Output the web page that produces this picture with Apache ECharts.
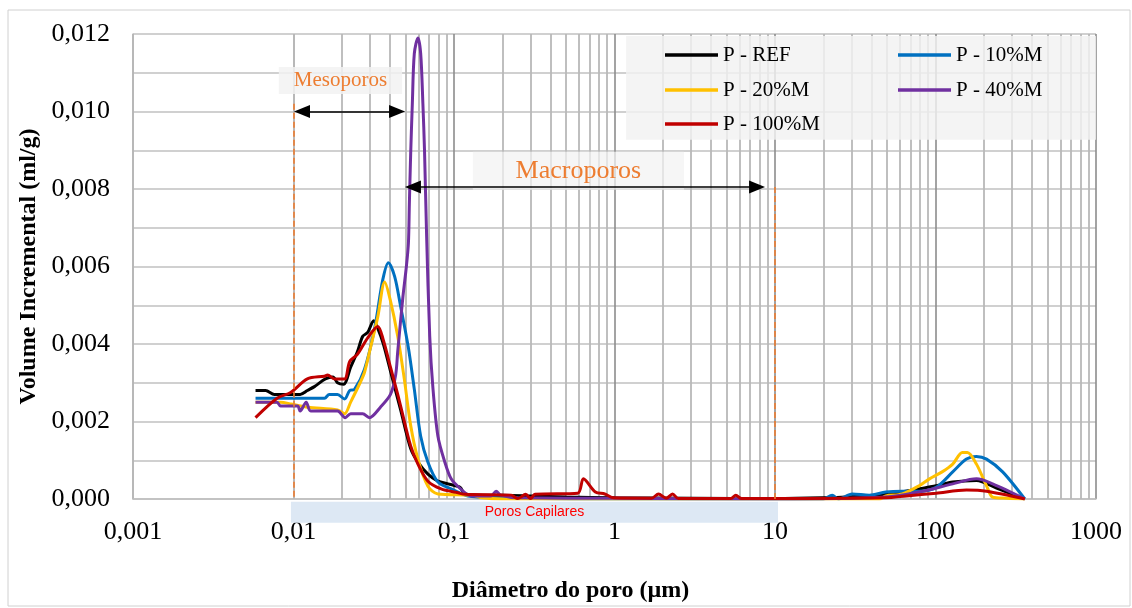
<!DOCTYPE html>
<html><head><meta charset="utf-8">
<script src="https://cdn.jsdelivr.net/npm/echarts@6/dist/echarts.min.js"></script>
<style>html,body{margin:0;padding:0;background:#fff}#c{width:1132px;height:608px}</style>
</head><body><div id="c"></div>
<script>
// ---------- DATA ----------
const seriesNames = ['P - REF', 'P - 10%M', 'P - 20%M', 'P - 40%M', 'P - 100%M'];

const refD = [0.0058, 0.0067, 0.0076, 0.0092, 0.011, 0.0122, 0.0135, 0.0158, 0.0176, 0.0188, 0.0205, 0.0227, 0.025, 0.027, 0.029, 0.0316, 0.0335, 0.0363, 0.0402, 0.0465, 0.0537, 0.0596, 0.0688, 0.0794, 0.0918, 0.109, 0.117, 0.15, 0.2, 0.3, 0.5, 1, 3, 10, 20, 30, 50, 79, 101, 128, 180, 240, 360];
const refV = [0.0028, 0.0028, 0.0027, 0.0027, 0.0027, 0.0028, 0.0029, 0.0031, 0.00315, 0.0030, 0.00296, 0.0034, 0.0038, 0.0042, 0.0043, 0.0046, 0.0044, 0.0040, 0.0033, 0.0023, 0.0013, 0.00095, 0.00064, 0.00046, 0.00039, 0.0003, 0.00013, 0.0001, 0.0001, 0.00008, 0.00005, 0.00003, 0.00002, 0.00001, 0.00003, 0.00006, 0.00012, 0.00026, 0.00034, 0.00044, 0.00048, 0.00028, 0];

const m10D = [0.0058, 0.0156, 0.0167, 0.0188, 0.0208, 0.0224, 0.024, 0.0277, 0.032, 0.036, 0.039, 0.0427, 0.0465, 0.0518, 0.0566, 0.062, 0.0688, 0.0794, 0.096, 0.122, 0.2, 0.3, 1, 10, 20, 22.7, 24.9, 30.3, 38.7, 49, 62, 79, 101, 128, 156, 180, 208, 262, 360];
const m10V = [0.0026, 0.0026, 0.0027, 0.0027, 0.00258, 0.0028, 0.00283, 0.00335, 0.0044, 0.00566, 0.0061, 0.00574, 0.00497, 0.00394, 0.00283, 0.00162, 0.00095, 0.00044, 0.00026, 0.00008, 0.00003, 0.00001, 0, 0, 0, 0.0001, 0, 0.00013, 0.0001, 0.00018, 0.0002, 0.0002, 0.0003, 0.0007, 0.00103, 0.0011, 0.00103, 0.0007, 0];

const m20D = [0.0058, 0.0083, 0.0097, 0.0123, 0.0188, 0.0208, 0.0227, 0.026, 0.0277, 0.030, 0.0335, 0.037, 0.040, 0.0446, 0.049, 0.0537, 0.0596, 0.0688, 0.0794, 0.13, 0.15, 0.2, 1, 10, 44.7, 49, 62, 79, 91.7, 110, 128, 147, 158, 180, 208, 227, 278, 360];
const m20V = [0.0025, 0.0025, 0.00245, 0.00237, 0.0023, 0.0022, 0.0025, 0.0030, 0.00327, 0.00386, 0.0047, 0.0056, 0.00515, 0.0042, 0.0031, 0.0019, 0.00103, 0.00033, 0.00013, 0.0001, 0.00003, 0, 0, 0, 0, 0.00008, 0.00013, 0.00034, 0.00052, 0.0007, 0.0009, 0.0012, 0.0012, 0.0009, 0.00034, 0.00005, 0.00002, 0];

const m40D = [0.0058, 0.0079, 0.0083, 0.0106, 0.011, 0.012, 0.0128, 0.0188, 0.021, 0.0227, 0.027, 0.0297, 0.0348, 0.0402, 0.0433, 0.0446, 0.048, 0.0505, 0.052, 0.0527, 0.0537, 0.055, 0.0566, 0.0596, 0.062, 0.064, 0.0655, 0.0675, 0.0706, 0.0738, 0.0794, 0.0877, 0.096, 0.11, 0.128, 0.17, 0.183, 0.195, 0.25, 1, 10, 49, 79, 128, 180, 227, 360];
const m40V = [0.0025, 0.0025, 0.0024, 0.0024, 0.00227, 0.0025, 0.00227, 0.00227, 0.0021, 0.0022, 0.0022, 0.0021, 0.00237, 0.0027, 0.0032, 0.0038, 0.0052, 0.0060, 0.0066, 0.0076, 0.0089, 0.0102, 0.0115, 0.0119, 0.0115, 0.0102, 0.0090, 0.0068, 0.0042, 0.0029, 0.00162, 0.00095, 0.00052, 0.00026, 0.00008, 0.00008, 0.0002, 0.0001, 0.00003, 0.00002, 0, 0.00005, 0.00018, 0.00039, 0.00052, 0.00039, 0];

const m100D = [0.0058, 0.0079, 0.0096, 0.0122, 0.0156, 0.0163, 0.018, 0.0208, 0.0224, 0.025, 0.029, 0.0335, 0.0363, 0.0402, 0.0446, 0.0465, 0.0537, 0.0596, 0.0688, 0.0831, 0.106, 0.117, 0.227, 0.25, 0.28, 0.3, 0.32, 0.59, 0.64, 0.76, 0.87, 0.99, 1.7, 1.88, 2.1, 2.3, 2.5, 5.3, 5.7, 6.2, 49, 65.9, 101, 156, 208, 360];
const m100V = [0.0021, 0.0026, 0.00275, 0.0031, 0.00317, 0.0032, 0.0031, 0.0031, 0.00355, 0.00373, 0.00416, 0.00445, 0.0041, 0.0034, 0.0027, 0.0024, 0.00137, 0.0009, 0.00046, 0.00026, 0.00016, 0.00012, 0.0001, 0.00001, 0.00012, 0.00001, 0.00012, 0.00015, 0.00052, 0.00018, 0.00013, 0.00003, 0.00002, 0.00013, 0.00002, 0.00013, 0.00001, 0.00001, 0.0001, 0.00001, 0.00003, 0.00008, 0.00015, 0.00023, 0.0002, 0];

const xTickLabels = ['0,001', '0,01', '0,1', '1', '10', '100', '1000'];
const yTickStep = 0.001;

// ---------- STYLE / LAYOUT ----------
const colors = ['#000000', '#0070c0', '#ffc000', '#7030a0', '#c00000'];
const serif = '"Liberation Serif", "Times New Roman", serif';
const orange = '#ed7d31';

const minorX = [];
for (let e = -3; e <= 2; e++) for (let m = 2; m <= 9; m++) minorX.push(+(m * Math.pow(10, e)).toPrecision(3));

function mk(i, d, v) {
  return {
    name: seriesNames[i], type: 'line', symbol: 'none', smooth: 0.3,
    data: d.map((x, k) => [x, v[k]]),
    lineStyle: { color: colors[i], width: 3 }, itemStyle: { color: colors[i] },
    z: 2, animation: false
  };
}

const legendCommon = {
  orient: 'horizontal', icon: 'rect', itemWidth: 53, itemHeight: 3.5, itemGap: 25, padding: 0,
  selectedMode: false,
  textStyle: { fontFamily: serif, fontSize: 21, color: '#000', width: 150, lineHeight: 24 }
};

const blackArrow = { color: '#000', width: 1.5, type: 'solid' };
const orangeDash = { color: orange, width: 1.6, type: [6, 3] };

const option = {
  animation: false,
  backgroundColor: '#ffffff',
  grid: { left: 133, top: 34, width: 963, height: 465, containLabel: false },
  legend: [
    Object.assign({ data: [seriesNames[0], seriesNames[1]], left: 665, top: 43 }, legendCommon),
    Object.assign({ data: [seriesNames[2], seriesNames[3]], left: 665, top: 78 }, legendCommon),
    Object.assign({ data: [seriesNames[4]], left: 665, top: 112 }, legendCommon)
  ],
  xAxis: {
    type: 'log', logBase: 10, min: 0.001, max: 1000,
    name: 'Diâmetro do poro (µm)', nameLocation: 'middle', nameGap: 80,
    nameTextStyle: { fontFamily: serif, fontSize: 24, fontWeight: 'bold', color: '#000', padding: [0, 88, 0, 0] },
    axisLine: { show: true, lineStyle: { color: '#bfbfbf', width: 1.5 } },
    axisTick: { show: false },
    axisLabel: {
      fontFamily: serif, fontSize: 26, color: '#000', margin: 20,
      formatter: v => xTickLabels[Math.round(Math.log10(v)) + 3]
    },
    splitLine: { show: true, lineStyle: { color: '#8c8c8c', width: 1.6 } }
  },
  yAxis: {
    type: 'value', min: 0, max: 0.012, interval: yTickStep,
    name: 'Volume Incremental (ml/g)', nameLocation: 'middle', nameGap: 88,
    nameTextStyle: { fontFamily: serif, fontSize: 24, fontWeight: 'bold', color: '#000' },
    axisLine: { show: true, lineStyle: { color: '#bfbfbf', width: 1.5 } },
    axisTick: { show: false },
    axisLabel: {
      fontFamily: serif, fontSize: 26, color: '#000', margin: 23,
      formatter: v => (Math.round(v / yTickStep) % 2 === 0) ? v.toFixed(3).replace('.', ',') : ''
    },
    splitLine: { show: true, lineStyle: { color: '#d0d0d0', width: 2 } }
  },
  series: [
    {
      type: 'line', name: '_grid', data: [], silent: true, z: 1,
      markLine: {
        silent: true, symbol: 'none', animation: false, z: 1,
        label: { show: false },
        lineStyle: { color: '#b8b8b8', width: 1.8, type: 'solid' },
        data: minorX.map(x => ({ xAxis: x }))
      }
    },
    mk(0, refD, refV),
    mk(1, m10D, m10V),
    mk(2, m20D, m20V),
    mk(3, m40D, m40V),
    mk(4, m100D, m100V),
    {
      type: 'line', name: '_annot', data: [], silent: true, z: 3, clip: false,
      markLine: {
        silent: true, animation: false, z: 3, label: { show: false },
        symbol: ['triangle', 'triangle'], symbolSize: [13, 16],
        data: [
          [{ coord: [0.0113, 0.010], lineStyle: blackArrow }, { coord: [0.0442, 0.010] }],
          [{ coord: [0.0555, 0.00805], lineStyle: blackArrow }, { coord: [7.73, 0.00805] }],
          [{ coord: [0.01, 0.0102], symbol: 'none', lineStyle: orangeDash }, { coord: [0.01, 0], symbol: 'none' }],
          [{ coord: [10, 0.00805], symbol: 'none', lineStyle: orangeDash }, { coord: [10, 0], symbol: 'none' }]
        ]
      }
    }
  ]
};

const chart = echarts.init(document.getElementById('c'), null, { renderer: 'canvas' });
chart.setOption(option);

// annotation boxes in data coordinates
const boxes = [
  { x: [1.18, 1000], y: [0.01195, 0.00927], fill: 'rgba(242,242,242,0.82)' },
  { x: [0.0081, 0.0475], y: [0.01115, 0.01045], fill: 'rgba(242,242,242,0.85)', text: 'Mesoporos', color: orange, font: '21px ' + serif },
  { x: [0.131, 2.71], y: [0.00896, 0.00798], fill: 'rgba(242,242,242,0.72)', text: 'Macroporos', color: orange, font: '26px ' + serif },
  { x: [0.00964, 10.44], y: [-0.00007, -0.00061], fill: '#dde8f4', text: 'Poros Capilares', color: '#ff0000', font: '14px "Liberation Sans", Arial, sans-serif' }
];
const P = (x, y) => chart.convertToPixel({ seriesIndex: 1 }, [x, y]);
const g = [{
  type: 'rect', shape: { x: 8, y: 10, width: 1122, height: 596 },
  style: { fill: 'none', stroke: '#d0d0d0', lineWidth: 1 }, z: 0, silent: true
}];
boxes.forEach(b => {
  const a = P(b.x[0], b.y[0]), c = P(b.x[1], b.y[1]);
  g.push({ type: 'rect', shape: { x: a[0], y: a[1], width: c[0] - a[0], height: c[1] - a[1] }, style: { fill: b.fill }, z: 1, silent: true });
  if (b.text) g.push({
    type: 'text', x: (a[0] + c[0]) / 2, y: (a[1] + c[1]) / 2, z: 2, silent: true,
    style: { text: b.text, fill: b.color, font: b.font, align: 'center', verticalAlign: 'middle' }
  });
});
chart.setOption({ graphic: g });
</script>
</body></html>
